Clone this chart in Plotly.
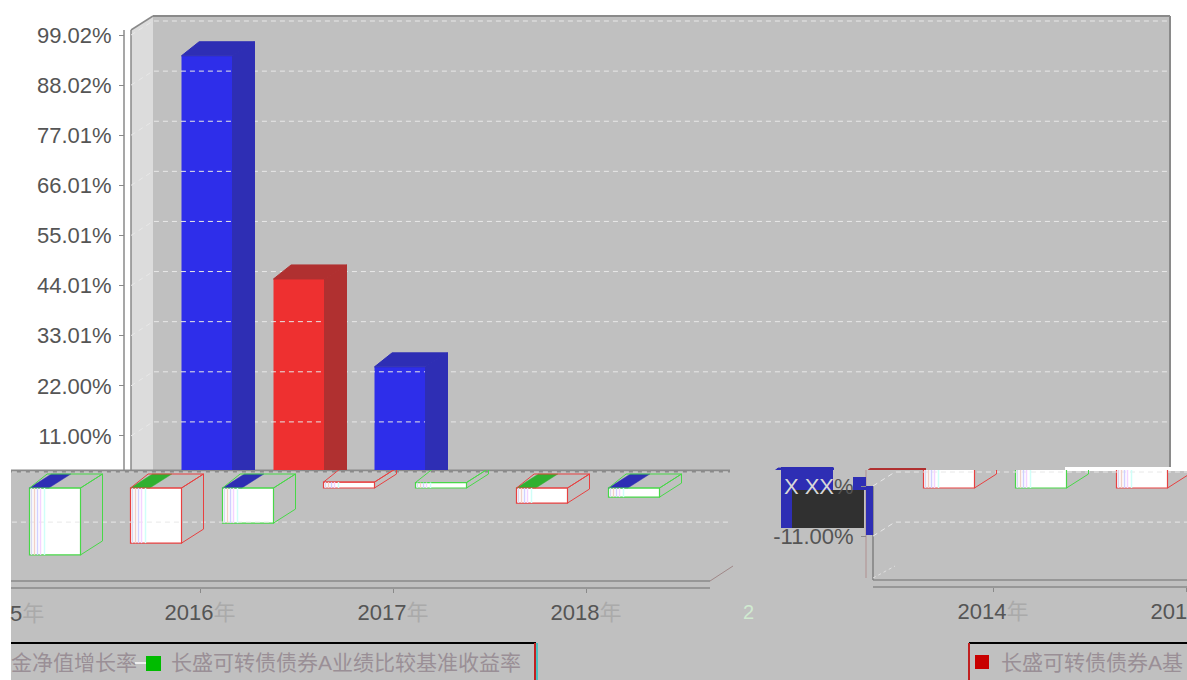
import plotly.graph_objects as go

W, H = 1187, 680
YEARS = [2014, 2015, 2016, 2017, 2018]
SERIES_A = [94.9, 26.6, -12.1, 1.3, -3.3]
SERIES_B = [45.9, -14.7, -7.7, 1.2, -2.0]
TOP_TICKS = [99.02, 88.02, 77.01, 66.01, 55.01, 44.01, 33.01, 22.00, 11.00]
LOW_TICKS = [0, -11]
NAME_A = "长盛可转债债券A基金净值增长率"
NAME_B = "长盛可转债债券A业绩比较基准收益率"

FONT = "Liberation Sans, Arial, Noto Sans CJK SC, sans-serif"
GREY_BG = "#c0c0c0"
TXT = "#555555"
PX_X = 193.0          # px per year
PX_Y = 50.1 / 11      # px per percent
DX, DY = 22 / PX_X, 14 / PX_Y
BW = 51 / PX_X
OFF_A, OFF_B = -44 / PX_X, 48 / PX_X
BASE = -2 / PX_Y


def xp(px): return px / W
def yp(py): return 1 - py / H
def dom_y(top, bottom): return [yp(bottom), yp(top)]
def val(py): return (486 - py) / PX_Y


fig = go.Figure()


def scat(xs, ys, ax, **kw):
    fig.add_trace(go.Scatter(x=xs, y=ys, xaxis=ax[0], yaxis=ax[1], mode="lines",
                             hoverinfo="skip", showlegend=False, **kw))


def faces(values, offset, ax, side, top, line, fill_side=True, width=0.8):
    sx, sy, tx, ty = [], [], [], []
    for yr, v in zip(YEARS, values):
        l = yr + offset - BW / 2
        r = l + BW
        up = max(v + BASE, BASE)
        dn = min(v + BASE, BASE)
        sx += [r, r + DX, r + DX, r, r, None]
        sy += [up, up + DY, dn + DY, dn, up, None]
        tx += [l, l + DX * width, r + DX, r, l, None]
        ty += [up, up + DY, up + DY, up, up, None]
    scat(sx, sy, ax, fill="toself" if fill_side else "none", fillcolor=side,
         line=dict(color=line, width=1))
    scat(tx, ty, ax, fill="toself" if fill_side else "none", fillcolor=top,
         line=dict(color=line, width=1))


def grid(ticks, x0, x1, x2, ax):
    for t in ticks:
        scat([x0, x1, x2], [t, t + DY, t + DY], ax, cliponaxis=False,
             line=dict(color="#e8e8e8", width=1, dash="5px,4px"))


# ---- upper panel
top_ax = ("x", "y")
grid(TOP_TICKS, 2014 - (251 - 131) / PX_X, 2014 - (251 - 153) / PX_X, 2014 + (1170 - 251) / PX_X, top_ax)
faces(SERIES_A, OFF_A, top_ax, "#2e2eb4", "#2e2eb4", "#2e2eb4")
faces(SERIES_B, OFF_B, top_ax, "#b03030", "#b03030", "#b03030")
for vals, off, col in ((SERIES_A, OFF_A, "#2e2eea"), (SERIES_B, OFF_B, "#ee3030")):
    fig.add_trace(go.Bar(x=[y + off for y in YEARS], y=vals, base=BASE, width=BW,
                         marker=dict(color=col, line=dict(width=0)),
                         xaxis="x", yaxis="y", hoverinfo="skip", showlegend=False))

# ---- lower strip, drawn through both halves of the wrapped axis
STRIPES = [(2, "#d8d8f0"), (5, "#f0d0c8"), (8, "#d0d0ff"), (11, "#f4d4ff"), (15, "#d0fff8")]
for ax in (("x2", "y2"), ("x3", "y3")):
    if ax[0] == "x2":
        grid(LOW_TICKS, 2016 - 189 / PX_X - DX, 2016 - 189 / PX_X, 2016 + 530 / PX_X, ax)
    else:
        grid(LOW_TICKS, 2014 - 120 / PX_X, 2014 - 98 / PX_X, 2014 + 194 / PX_X, ax)
    for vals, off, edge, accent in ((SERIES_A, OFF_A, "#e84040", "#30b030"),
                                    (SERIES_B, OFF_B, "#48d848", "#2e2eb4")):
        # coloured strip on the top face at the zero plane
        ax_x, ax_y = [], []
        for yr, v in zip(YEARS, vals):
            if v < 0:
                l = yr + off - BW / 2
                ax_x += [l, l + DX, l + DX + 0.10, l + 0.10, l, None]
                ax_y += [BASE, BASE + DY, BASE + DY, BASE, BASE, None]
        scat(ax_x, ax_y, ax, fill="toself", fillcolor=accent, line=dict(color=accent, width=0.5))
        faces(vals, off, ax, "rgba(0,0,0,0)", "rgba(0,0,0,0)", edge, fill_side=False)
        fig.add_trace(go.Bar(x=[y + off for y in YEARS], y=vals, base=BASE, width=BW,
                             marker=dict(color="#ffffff", line=dict(color=edge, width=1.2)),
                             xaxis=ax[0], yaxis=ax[1], hoverinfo="skip", showlegend=False))
        for dx_px, col in STRIPES:
            sx, sy = [], []
            for yr, v in zip(YEARS, vals):
                l = yr + off - BW / 2 + dx_px / PX_X
                sx += [l, l, None]
                sy += [BASE, v + BASE, None]
            scat(sx, sy, ax, line=dict(color=col, width=1.5))


def rect(x0, y0, x1, y1, color):
    return dict(type="rect", xref="paper", yref="paper", x0=xp(x0), x1=xp(x1), y0=yp(y1), y1=yp(y0),
                fillcolor=color, line=dict(width=0), layer="below")


def seg(x0, y0, x1, y1, color, width=1.5, dash=None):
    return dict(type="line", xref="paper", yref="paper", x0=xp(x0), x1=xp(x1), y0=yp(y0), y1=yp(y1),
                line=dict(color=color, width=width, dash=dash), layer="below")


LINE = "#8a8a8a"
shapes = [
    # plot walls of the upper panel
    rect(153, 16, 1170, 470, GREY_BG),
    dict(type="path", xref="paper", yref="paper", layer="below", fillcolor="#dcdcdc", line=dict(width=0),
         path=f"M{xp(131)},{yp(30)} L{xp(153)},{yp(16)} L{xp(153)},{yp(470)} L{xp(131)},{yp(470)} Z"),
    seg(153, 16, 1170, 16, LINE, 2), seg(1170, 16, 1170, 470, LINE, 2),
    seg(131, 30, 153, 16, LINE, 1.5), seg(131, 30, 131, 470, LINE, 1.5),
    seg(124, 30, 124, 470, LINE, 1.5),
    # displaced lower strip
    rect(11, 470, W, H, GREY_BG),
    rect(1065, 467, W, 471, "#ffffff"),
    seg(11, 471, 730, 471, LINE, 3),
    # axis walls of the strip
    seg(11, 581, 710, 581, LINE, 1.5), seg(11, 588, 710, 588, LINE, 1.5),
    seg(710, 581, 733, 566, "#a08888", 1),
    seg(873, 580, W, 580, LINE, 1.5), seg(873, 587, W, 587, LINE, 1.5),
    seg(866, 470, 866, 578, "#b09090", 1), seg(873, 486, 873, 580, "#808080", 1.5),
    seg(873, 578, 895, 566, "#e0e0e0", 1, "dot"),
    # glitch blocks behind the low tick labels
    rect(781, 467, 833, 528, "#2e2eb4"),
    rect(792, 490, 864, 528, "#303030"),
    rect(853, 477, 866, 490, "#2e2eb4"),
    rect(866, 486, 873, 535, "#2e2eb4"),
    # legend frames
    seg(969, 643, W, 643, "#000000", 2), seg(969, 643, 969, H, "#c02020", 2),
    seg(11, 643, 536, 643, "#000000", 2), seg(535, 643, 535, H, "#c02020", 2), seg(537, 643, 537, H, "#20c0c0", 1.5),
    rect(975, 655, 989, 669, "#c80000"),
    rect(146, 656, 161, 671, "#00bb00"),
    seg(135, 663, 146, 663, "#ffffff", 1.5),
]

LEG = dict(family=FONT, size=21, color="#9a8f96")
annotations = [
    dict(xref="paper", yref="paper", x=xp(999), y=yp(662), xanchor="left", yanchor="middle",
         text=NAME_A[:9], showarrow=False, font=LEG),
    dict(xref="paper", yref="paper", x=xp(9), y=yp(662), xanchor="left", yanchor="middle",
         text=NAME_A[9:], showarrow=False, font=LEG),
    dict(xref="paper", yref="paper", x=xp(169), y=yp(662), xanchor="left", yanchor="middle",
         text=NAME_B, showarrow=False, font=LEG),
    dict(xref="paper", yref="paper", x=xp(8), y=yp(613), xanchor="left", yanchor="middle",
         text="5<span style='color:#aaaaaa'>年</span>", showarrow=False,
         font=dict(family=FONT, size=22, color=TXT)),
    dict(xref="paper", yref="paper", x=xp(741), y=yp(612), xanchor="left", yanchor="middle",
         text="2", showarrow=False, font=dict(family=FONT, size=20, color="#d0ead0")),
]

tf = dict(family=FONT, size=22, color=TXT)
year_text = [f"{y}<span style='color:#aaaaaa'>年</span>" for y in YEARS]
hidden_x = dict(showgrid=False, zeroline=False, showline=False, showticklabels=False, ticks="")
low_y = dict(showgrid=False, zeroline=False, showline=False, range=[val(680), val(470)],
             domain=dom_y(470, 680), anchor="free", automargin=False)

fig.update_layout(
    width=W, height=H, autosize=False, margin=dict(l=0, r=0, t=0, b=0, pad=0, autoexpand=False),
    paper_bgcolor="#ffffff", plot_bgcolor="rgba(0,0,0,0)",
    barmode="overlay", showlegend=False, shapes=shapes, annotations=annotations, font=tf,
    xaxis=dict(domain=[0, 1], range=[2014 - 251 / PX_X, 2014 + (W - 251) / PX_X], anchor="y", **hidden_x),
    yaxis=dict(domain=dom_y(16, 470), range=[val(470), val(16)], anchor="free", position=xp(124),
               showgrid=False, zeroline=False, showline=False, automargin=False,
               tickmode="array", tickvals=TOP_TICKS, ticktext=[f"{t:.2f}%" for t in TOP_TICKS],
               ticks="outside", ticklen=5, tickcolor=LINE, tickfont=tf, ticklabelstandoff=3),
    xaxis2=dict(domain=[xp(11), xp(730)], range=[2016 - 189 / PX_X, 2016 + 530 / PX_X],
                anchor="free", position=yp(588), showgrid=False, zeroline=False, showline=False, automargin=False,
                tickmode="array", tickvals=YEARS, ticktext=year_text, ticks="outside", ticklen=4,
                tickcolor=LINE, tickfont=tf, ticklabeloverflow="allow", ticklabelstandoff=1),
    yaxis2=dict(position=xp(11), showticklabels=False, ticks="", **low_y),
    xaxis3=dict(domain=[xp(873), 1], range=[2014 - 120 / PX_X, 2014 + 194 / PX_X],
                anchor="free", position=yp(587), showgrid=False, zeroline=False, showline=False, automargin=False,
                tickmode="array", tickvals=YEARS, ticktext=year_text, ticks="outside", ticklen=4,
                tickcolor=LINE, tickfont=tf, ticklabeloverflow="allow", ticklabelstandoff=1),
    yaxis3=dict(position=xp(866), tickmode="array", tickvals=LOW_TICKS,
                ticktext=["<span style='color:#d8d8d8'>X XX</span>%", "-11.00%"],
                ticks="outside", ticklen=5, tickcolor=LINE, tickfont=tf, ticklabelstandoff=3, **low_y),
)

fig.write_html("out.html", config=dict(displayModeBar=False),
               post_script="document.body.style.margin='0';document.body.style.overflow='hidden';")
